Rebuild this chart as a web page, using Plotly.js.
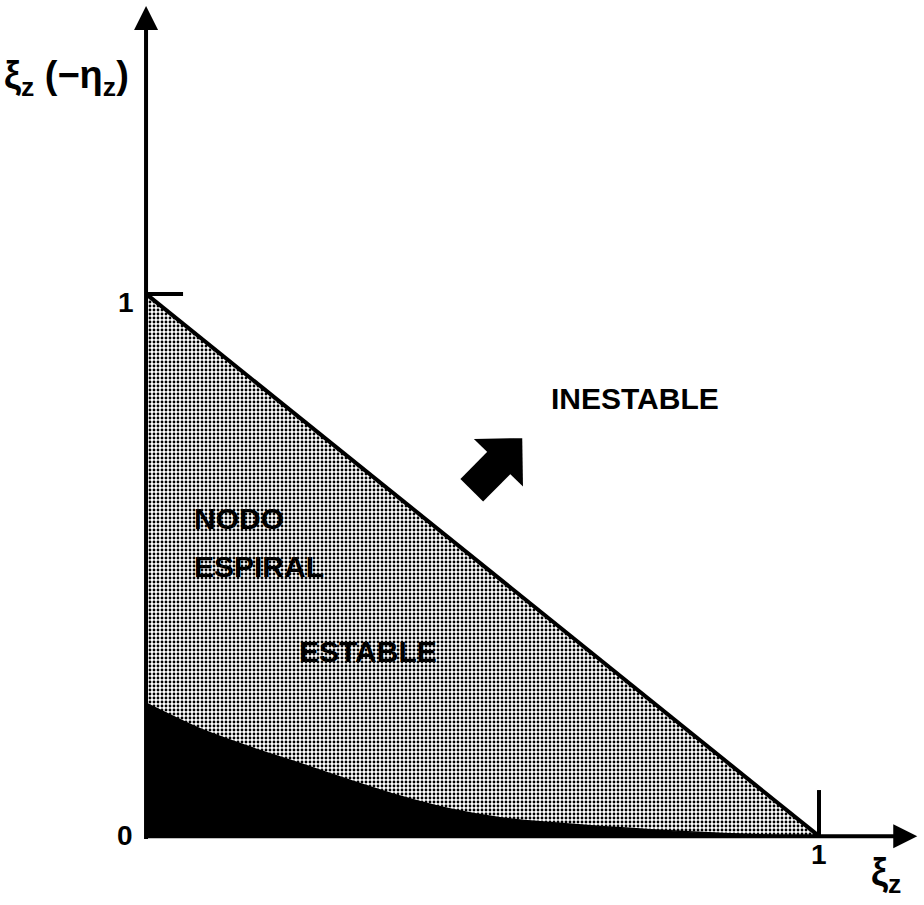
<!DOCTYPE html>
<html>
<head>
<meta charset="utf-8">
<script src="https://cdn.plot.ly/plotly-3.0.1.min.js"></script>
<style>html,body{margin:0;padding:0;background:#fff;}#chart{width:924px;height:905px;}</style>
</head>
<body>
<div id="chart"></div>
<script>
// Stability boundary (diagonal) and the black region boundary curve
const boundX = [0, 1];
const boundY = [1, 0];
const curveX = [0, 0.08, 0.155, 0.229, 0.303, 0.377, 0.452, 0.526, 0.60, 0.675, 0.75, 0.82, 0.90, 0.96];
const curveY = [0.245, 0.198, 0.164, 0.134, 0.103, 0.074, 0.050, 0.034, 0.025, 0.018, 0.012, 0.007, 0.003, 0.0];
// Axis extents and tick marks
const axisXEnd = 1.146;
const axisYEnd = 1.531;
const tickY1 = {x: [0, 0.055], y: [1, 1]};
const tickX1 = {x: [1, 1], y: [0, 0.085]};
// Block arrow pointing into the unstable region: tail, head base, tip
const arrowTail = {x: 0.484, y: 0.638};
const arrowBase = {x: 0.528, y: 0.693};
const arrowTip = {x: 0.559, y: 0.734};
// Labels
const regionLabels = [
  {text: 'INESTABLE', x: 0.727, y: 0.808, anchor: 'center'},
  {text: 'NODO', x: 0.068, y: 0.585, anchor: 'left'},
  {text: 'ESPIRAL', x: 0.068, y: 0.498, anchor: 'left'},
  {text: 'ESTABLE', x: 0.224, y: 0.341, anchor: 'left'}
];
const tickLabels = [
  {text: '1', x: -0.030, y: 0.985},
  {text: '0', x: -0.032, y: 0.002},
  {text: '1', x: 1.0, y: -0.034}
];

const FONT = 'Liberation Sans, Arial, Helvetica, sans-serif';

const traces = [
  {
    x: boundX, y: boundY, mode: 'lines', fill: 'tozeroy',
    fillcolor: '#ffffff',
    fillpattern: {shape: '.', size: 4, solidity: 0.4, fgcolor: '#000000', bgcolor: '#ffffff'},
    line: {color: '#000', width: 4}, hoverinfo: 'skip'
  },
  {
    x: curveX, y: curveY, mode: 'lines', fill: 'tozeroy', fillcolor: '#000',
    line: {color: '#000', width: 1.5, shape: 'spline', smoothing: 0.8}, hoverinfo: 'skip'
  },
  {x: tickY1.x, y: tickY1.y, mode: 'lines', line: {color: '#000', width: 4}, hoverinfo: 'skip'},
  {x: tickX1.x, y: tickX1.y, mode: 'lines', line: {color: '#000', width: 4}, hoverinfo: 'skip'},
  {
    x: [arrowTail.x, arrowBase.x], y: [arrowTail.y, arrowBase.y], mode: 'lines',
    line: {color: '#000', width: 32}, hoverinfo: 'skip'
  }
];

const annotations = [];
// axes as arrows
annotations.push({x: 0, y: axisYEnd, ax: 0, ay: -0.008, xref: 'x', yref: 'y', axref: 'x', ayref: 'y',
  text: '', showarrow: true, arrowhead: 2, arrowwidth: 4, arrowsize: 1.2, arrowcolor: '#000'});
annotations.push({x: axisXEnd, y: 0, ax: -0.004, ay: 0, xref: 'x', yref: 'y', axref: 'x', ayref: 'y',
  text: '', showarrow: true, arrowhead: 2, arrowwidth: 4, arrowsize: 1.2, arrowcolor: '#000'});
// head of the block arrow
annotations.push({x: arrowTip.x, y: arrowTip.y, ax: arrowTail.x, ay: arrowTail.y,
  xref: 'x', yref: 'y', axref: 'x', ayref: 'y',
  text: '', showarrow: true, arrowhead: 1, arrowwidth: 12, arrowsize: 0.95, arrowcolor: '#000'});

regionLabels.forEach(l => annotations.push({
  x: l.x, y: l.y, xref: 'x', yref: 'y', text: '<b>' + l.text + '</b>', showarrow: false,
  xanchor: l.anchor, yanchor: 'middle', font: {family: FONT, size: 30, color: '#000'}
}));
tickLabels.forEach(l => annotations.push({
  x: l.x, y: l.y, xref: 'x', yref: 'y', text: '<b>' + l.text + '</b>', showarrow: false,
  xanchor: 'center', yanchor: 'middle', font: {family: FONT, size: 28, color: '#000'}
}));
// axis titles
annotations.push({x: -0.214, y: 1.398, xref: 'x', yref: 'y', showarrow: false, xanchor: 'left', yanchor: 'middle',
  text: '<b>ξ<sub>z</sub> (−η<sub>z</sub>)</b>', font: {family: FONT, size: 38, color: '#000'}});
annotations.push({x: 1.075, y: -0.072, xref: 'x', yref: 'y', showarrow: false, xanchor: 'left', yanchor: 'middle',
  text: '<b>ξ<sub>z</sub></b>', font: {family: FONT, size: 38, color: '#000'}});

const layout = {
  width: 924, height: 905,
  margin: {l: 0, r: 0, t: 0, b: 0},
  paper_bgcolor: '#fff', plot_bgcolor: '#fff',
  showlegend: false,
  xaxis: {range: [-0.217, 1.156], visible: false, fixedrange: true},
  yaxis: {range: [-0.127, 1.542], visible: false, fixedrange: true},
  annotations: annotations
};

Plotly.newPlot('chart', traces, layout, {staticPlot: true, displayModeBar: false});
</script>
</body>
</html>
